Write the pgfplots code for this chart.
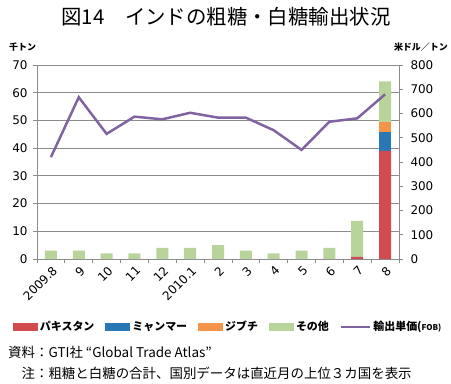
\documentclass[border=0pt]{standalone}
\usepackage{fontspec}
\setmainfont{Noto Sans CJK JP}
\newfontfamily\numfont{DejaVu Sans}
\usepackage{pgfplots}
\usepackage{pgfplotstable}
\pgfplotsset{compat=1.18}
\definecolor{cPak}{HTML}{D24B4E}
\definecolor{cMya}{HTML}{2A77B5}
\definecolor{cDji}{HTML}{F39449}
\definecolor{cOth}{HTML}{B8D49B}
\definecolor{cLine}{HTML}{8064A2}
\definecolor{cGrid}{HTML}{8C8C8C}
\pgfplotsset{boxlegend/.style={legend image code/.code={\fill[##1] (0bp,-4bp) rectangle (25bp,4bp);}},
  linelegend/.style={legend image code/.code={\draw[##1] (0bp,0bp) -- (29bp,0bp);}}}
\pgfplotstableread{
x pak mya dji oth price
0 0 0 0 3 420
1 0 0 0 3 667
2 0 0 0 2 516
3 0 0 0 2 587
4 0 0 0 4 576
5 0 0 0 4 603
6 0 0 0 5 583
7 0 0 0 3 583
8 0 0 0 2 531
9 0 0 0 3 450
10 0 0 0 4 566
11 0.8 0 0 13 580
12 39 7 3.3 14.8 679
}\data
\begin{document}
\begin{tikzpicture}
\useasboundingbox (0,0) rectangle (451bp,-384bp);
\node[font=\fontsize{20.5}{22}\selectfont] at (226bp,-17bp) {図14　インドの粗糖・白糖輸出状況};
\node[font=\bfseries\fontsize{9}{10}\selectfont, anchor=west, inner sep=0] at (9bp,-47bp) {千トン};
\node[font=\bfseries\fontsize{9}{10}\selectfont, anchor=east, inner sep=0] at (448bp,-47bp) {米ドル／トン};
\begin{axis}[
  at={(37bp,-259bp)}, anchor=south west,
  scale only axis, width=362bp, height=194bp,
  xmin=-0.5, xmax=12.5, ymin=0, ymax=70,
  ybar stacked, bar width=12bp,
  axis x line*=bottom, axis y line*=left,
  axis line style={cGrid, line width=1pt},
  xtick={0,...,12},
  xticklabels={2009.8,9,10,11,12,2010.1,2,3,4,5,6,7,8},
  major x tick style={draw=none},
  minor xtick={-0.5,0.5,...,12.5},
  minor x tick style={cGrid, line width=0.8pt},
  minor tick length=4bp,
  ytick={0,10,...,70},
  ymajorgrids, grid style={cGrid, line width=0.8pt},
  major tick length=4bp, tick align=outside,
  y tick style={cGrid, line width=0.8pt},
  tick label style={font=\numfont\fontsize{12}{13}\selectfont},
  yticklabel style={xshift=-2bp},
  x tick label style={rotate=45, anchor=north east, inner sep=1bp, yshift=-1bp},
  /pgf/number format/assume math mode=true,
  legend style={at={(axis description cs:0.528,-0.35)}, anchor=center, draw=none, fill=none,
    legend columns=5, font=\bfseries\fontsize{11}{12}\selectfont,
    /tikz/every even column/.append style={column sep=9bp},
    legend cell align=left},
]
\addplot[fill=cPak, draw=none, boxlegend] table[x=x, y=pak] {\data};
\addlegendentry{パキスタン}
\addplot[fill=cMya, draw=none, boxlegend] table[x=x, y=mya] {\data};
\addlegendentry{ミャンマー}
\addplot[fill=cDji, draw=none, boxlegend] table[x=x, y=dji] {\data};
\addlegendentry{ジブチ}
\addplot[fill=cOth, draw=none, boxlegend] table[x=x, y=oth] {\data};
\addlegendentry{その他}
\addlegendimage{cLine, line width=2.5pt, linelegend}
\addlegendentry{輸出単価(\fontsize{8}{9}\selectfont FOB)}
\end{axis}
\begin{axis}[
  at={(37bp,-259bp)}, anchor=south west,
  scale only axis, width=362bp, height=194bp,
  xmin=-0.5, xmax=12.5, ymin=0, ymax=800,
  axis x line=none, axis y line*=right,
  axis line style={cGrid, line width=1pt},
  ytick={0,100,...,800},
  major tick length=4bp, tick align=outside,
  y tick style={cGrid, line width=0.8pt},
  tick label style={font=\numfont\fontsize{12}{13}\selectfont},
  yticklabel style={xshift=4bp},
  /pgf/number format/assume math mode=true,
]
\addplot[cLine, line width=2.5pt, mark=none] table[x=x, y=price] {\data};
\end{axis}
\node[font=\fontsize{13.5}{14}\selectfont, anchor=west, inner sep=0] at (8bp,-352bp) {資料：GTI社 “Global Trade Atlas”};
\node[font=\fontsize{13.5}{14}\selectfont, anchor=west, inner sep=0] at (8bp,-373bp) {　注：粗糖と白糖の合計、国別データは直近月の上位３カ国を表示};
\end{tikzpicture}
\end{document}
